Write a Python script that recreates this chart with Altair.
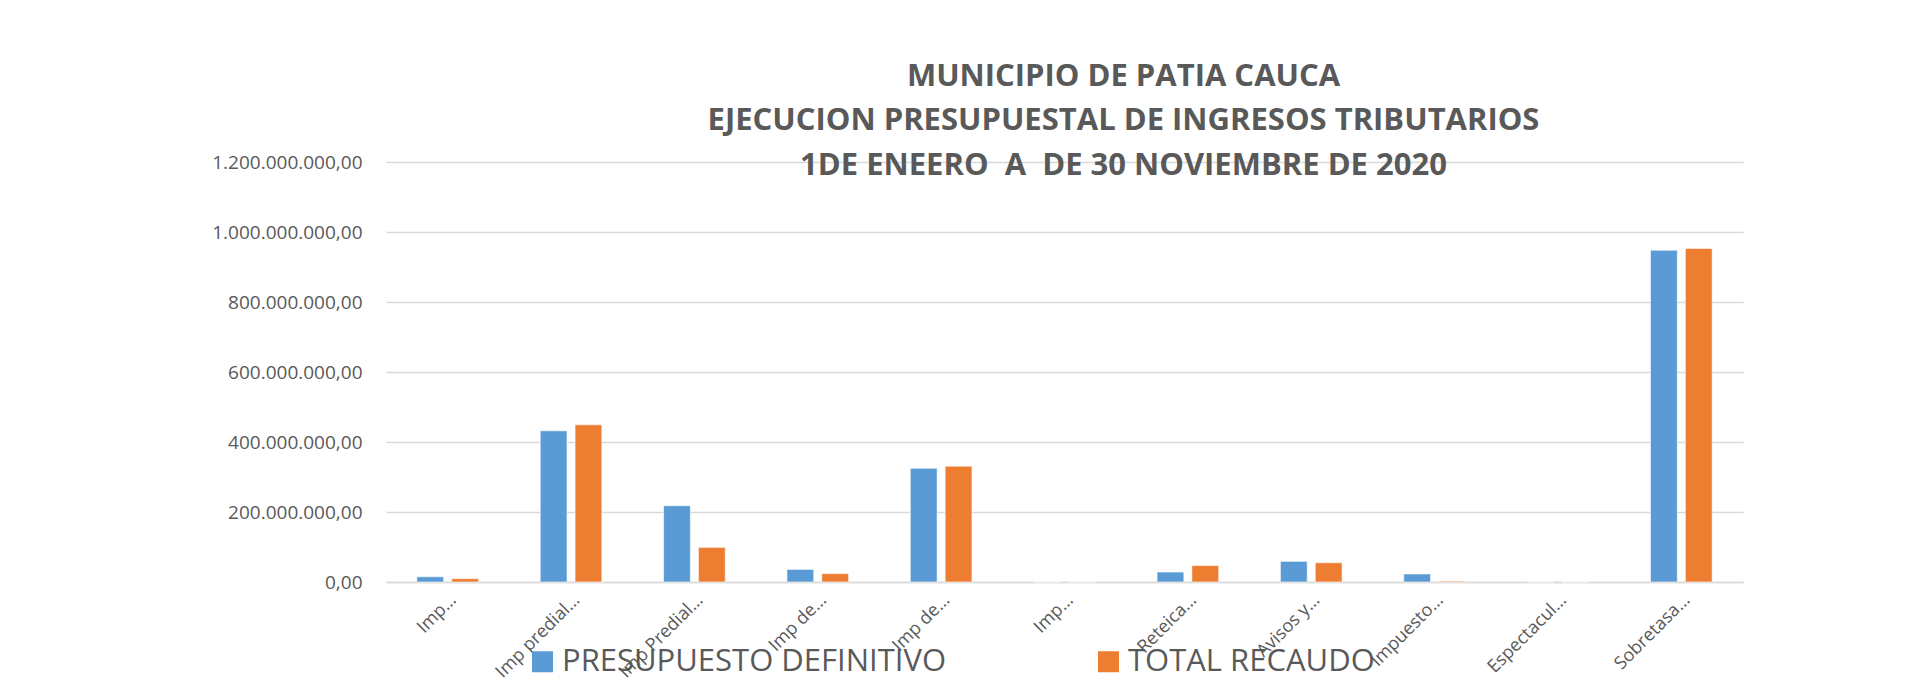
import json
import altair as alt
import pandas as pd

# ---- data ----
categorias = ["Imp…", "Imp predial…", "Imp Predial…", "Imp de…", "Imp de…", "Imp…",
              "Reteica…", "Avisos y…", "Impuesto…", "Espectacul…", "Sobretasa…"]
presupuesto = [15e6, 432e6, 218e6, 36e6, 325e6, 0, 28.5e6, 59e6, 23e6, 0, 948e6]
recaudo = [9.5e6, 449e6, 99e6, 24e6, 331e6, 0, 47e6, 55e6, 2.5e6, 0, 953e6]
series = ["PRESUPUESTO DEFINITIVO", "TOTAL RECAUDO"]
colores = ["#5B9BD5", "#ED7D31"]
y_ticks = [0, 200e6, 400e6, 600e6, 800e6, 1000e6, 1200e6]
titulo = ["MUNICIPIO DE PATIA CAUCA",
          "EJECUCION PRESUPUESTAL DE INGRESOS TRIBUTARIOS",
          "1DE ENEERO \u00a0A \u00a0DE 30 NOVIEMBRE DE 2020"]

rows = []
for i, c in enumerate(categorias):
    rows.append({"idx": i, "categoria": c, "serie": series[0], "valor": presupuesto[i]})
    rows.append({"idx": i, "categoria": c, "serie": series[1], "valor": recaudo[i]})
df = pd.DataFrame(rows)

label_expr = "[" + ",".join(json.dumps(c, ensure_ascii=False) for c in categorias) + "][datum.value]"

FONT = "Open Sans"
GREY = "#595959"

chart = alt.Chart(df).mark_bar(stroke="white", strokeWidth=0.6).encode(
    x=alt.X("idx:O",
            scale=alt.Scale(paddingInner=0.5, paddingOuter=0.25),
            axis=alt.Axis(labelExpr=label_expr, labelAngle=-45, labelAlign="right",
                          labelBaseline="middle", labelFontSize=18, labelFont=FONT,
                          labelColor=GREY, labelOffset=6, labelPadding=15,
                          labelOverlap=False, ticks=False, tickSize=0,
                          domainColor="#D9D9D9", domainWidth=1.5, grid=False,
                          title=None)),
    xOffset=alt.XOffset("serie:N", sort=series,
                        scale=alt.Scale(paddingInner=0.23, paddingOuter=0)),
    y=alt.Y("valor:Q",
            scale=alt.Scale(domain=[0, 1.2e9], nice=False),
            axis=alt.Axis(values=y_ticks, format=",.2f", grid=True, gridColor="#D9D9D9",
                          gridWidth=1.3, domain=False, ticks=False, labelFontSize=19,
                          labelFont=FONT, labelColor=GREY, labelPadding=24, title=None)),
    color=alt.Color("serie:N", sort=series,
                    scale=alt.Scale(domain=series, range=colores),
                    legend=alt.Legend(orient="none", legendX=141, legendY=484,
                                      direction="horizontal", title=None,
                                      symbolType="square", symbolSize=441,
                                      symbolStrokeWidth=0, labelFontSize=31,
                                      labelFont=FONT, labelColor=GREY, labelLimit=1000,
                                      labelOffset=4, columnPadding=146, padding=0)),
).properties(
    width=1357,
    height=420,
    autosize=alt.AutoSizeParams(type="none"),
    padding={"left": 378, "top": 154, "right": 140, "bottom": 100},
    title=alt.TitleParams(text=titulo, fontSize=31, font=FONT, fontWeight="bold",
                          color=GREY, anchor="middle", dx=59, offset=-29,
                          lineHeight=44.7),
).configure(
    locale=alt.Locale(number=alt.NumberLocale(decimal=",", thousands=".",
                                              grouping=[3], currency=["$", ""]))
).configure_view(
    stroke=None
)

chart.save("out.html", embed_options={"renderer": "svg", "actions": False})
